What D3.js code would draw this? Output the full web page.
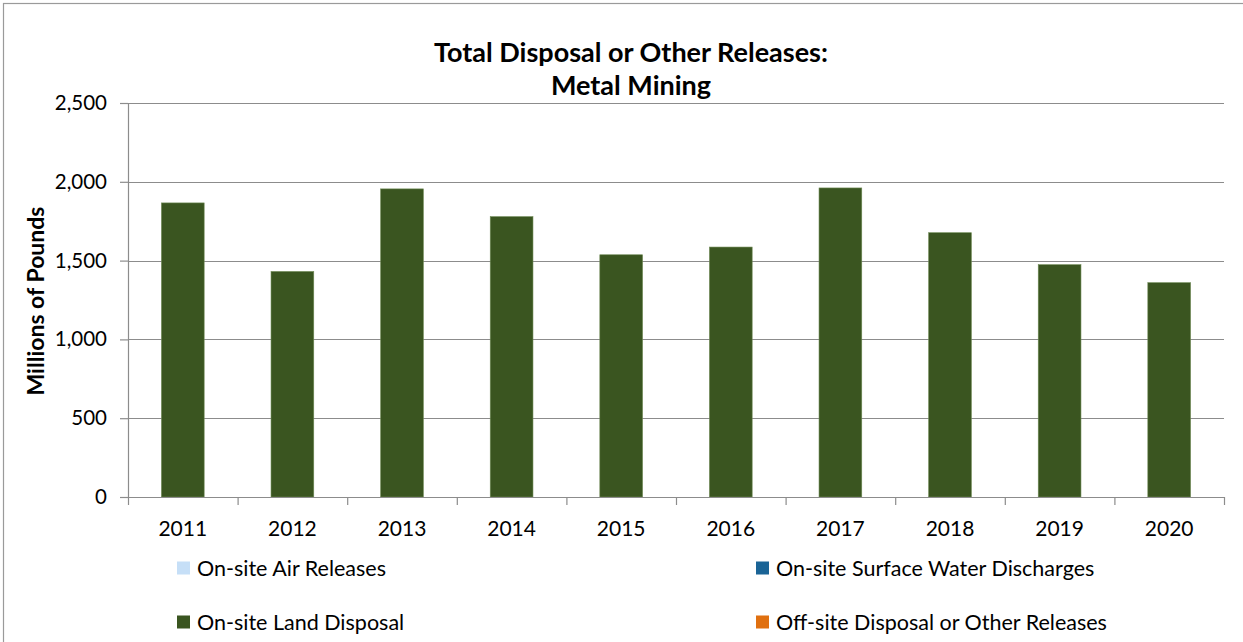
<!DOCTYPE html>
<html>
<head>
<meta charset="utf-8">
<script src="https://cdn.jsdelivr.net/npm/d3@7"></script>
<style>
  body { margin: 0; background: #fff; }
  svg { display: block; font-family: Lato, "Open Sans", sans-serif; }
</style>
</head>
<body>
<div id="chart"></div>
<script>
// yearly totals, millions of pounds
const aYears = ["2011", "2012", "2013", "2014", "2015", "2016", "2017", "2018", "2019", "2020"];
const aLandDisposal = [1866, 1431, 1955, 1779, 1537, 1586, 1961, 1677, 1474, 1360];
const aYTicks = [0, 500, 1000, 1500, 2000, 2500];
const aLegend = [
    { name: "On-site Air Releases", color: "#c6dff7" },
    { name: "On-site Surface Water Discharges", color: "#1a6496" },
    { name: "On-site Land Disposal", color: "#3a5520" },
    { name: "Off-site Disposal or Other Releases", color: "#e07010" }
];

const iWidth = 1243, iHeight = 642;
const oMargin = { top: 103, left: 128 };
const iInnerW = 1224 - oMargin.left;
const iInnerH = 497 - oMargin.top;
const sAxisColor = "#8c8c8c";

const d3Svg = d3.select("#chart").append("svg")
    .attr("width", iWidth)
    .attr("height", iHeight);

// chart frame
d3Svg.append("rect")
    .attr("x", 3.5).attr("y", 3.5)
    .attr("width", iWidth + 10).attr("height", iHeight + 10)
    .attr("fill", "none").attr("stroke", "#9a9a9a").attr("stroke-width", 1.2);

// title
const d3Title = d3Svg.append("text")
    .attr("text-anchor", "middle")
    .attr("font-size", "27px").attr("font-weight", "bold").attr("fill", "#000");
d3Title.append("tspan").attr("x", 631).attr("y", 62).text("Total Disposal or Other Releases:");
d3Title.append("tspan").attr("x", 631).attr("y", 95).text("Metal Mining");

const g = d3Svg.append("g").attr("transform", `translate(${oMargin.left},${oMargin.top})`);

const xScale = d3.scaleBand().domain(aYears).range([0, iInnerW]).paddingInner(0.61).paddingOuter(0.305);
const yScale = d3.scaleLinear().domain([0, 2500]).range([iInnerH, 0]);

// gridlines
g.append("g").selectAll("line").data(aYTicks.filter(v => v > 0))
    .enter().append("line")
    .attr("x1", 0).attr("x2", iInnerW)
    .attr("y1", v => Math.round(yScale(v)) + 0.5).attr("y2", v => Math.round(yScale(v)) + 0.5)
    .attr("stroke", sAxisColor).attr("stroke-width", 1.2);

// bars
g.append("g").selectAll("rect").data(aLandDisposal)
    .enter().append("rect")
    .attr("x", (v, i) => xScale(aYears[i]))
    .attr("y", v => yScale(v))
    .attr("width", xScale.bandwidth())
    .attr("height", v => iInnerH - yScale(v))
    .attr("fill", "#3a5520")
    .attr("stroke", "#6f8a55").attr("stroke-width", 0.6);

// y axis
const yAxis = g.append("g")
    .call(d3.axisLeft(yScale).tickValues(aYTicks).tickFormat(d3.format(",")).tickSize(8).tickPadding(13));
yAxis.select(".domain").attr("stroke", sAxisColor).attr("stroke-width", 1.2).attr("d", `M0.5,0V${iInnerH}`);
yAxis.selectAll(".tick line").attr("stroke", sAxisColor).attr("stroke-width", 1.2);
yAxis.selectAll("text").attr("font-size", "20.5px").attr("fill", "#000").attr("font-family", "Lato, sans-serif");

// x axis with ticks between categories
const xAxis = g.append("g").attr("transform", `translate(0,${iInnerH})`);
xAxis.append("line").attr("x1", 0).attr("x2", iInnerW).attr("y1", 0.5).attr("y2", 0.5)
    .attr("stroke", sAxisColor).attr("stroke-width", 1.2);
xAxis.selectAll("line.sep").data(d3.range(aYears.length + 1))
    .enter().append("line").attr("class", "sep")
    .attr("x1", i => i * iInnerW / aYears.length + 0.5).attr("x2", i => i * iInnerW / aYears.length + 0.5)
    .attr("y1", 0).attr("y2", 8)
    .attr("stroke", sAxisColor).attr("stroke-width", 1.2);
xAxis.selectAll("text").data(aYears)
    .enter().append("text")
    .attr("x", d => xScale(d) + xScale.bandwidth() / 2)
    .attr("y", 39)
    .attr("text-anchor", "middle")
    .attr("font-size", "21px").attr("fill", "#000")
    .text(d => d);

// y axis title
d3Svg.append("text")
    .attr("transform", "translate(44,301) rotate(-90)")
    .attr("text-anchor", "middle")
    .attr("font-size", "23px").attr("font-weight", "bold")
    .text("Millions of Pounds");

// legend, two columns
const aLegendPos = [[177, 568], [756, 568], [177, 622], [756, 622]];
const d3Legend = d3Svg.append("g").selectAll("g").data(aLegend)
    .enter().append("g")
    .attr("transform", (d, i) => `translate(${aLegendPos[i][0]},${aLegendPos[i][1]})`);
d3Legend.append("rect")
    .attr("x", 0).attr("y", -6.5).attr("width", 13).attr("height", 13)
    .attr("fill", d => d.color);
d3Legend.append("text")
    .attr("x", 20).attr("y", 7.5)
    .attr("font-size", "21.5px").attr("fill", "#000")
    .text(d => d.name);
</script>
</body>
</html>
